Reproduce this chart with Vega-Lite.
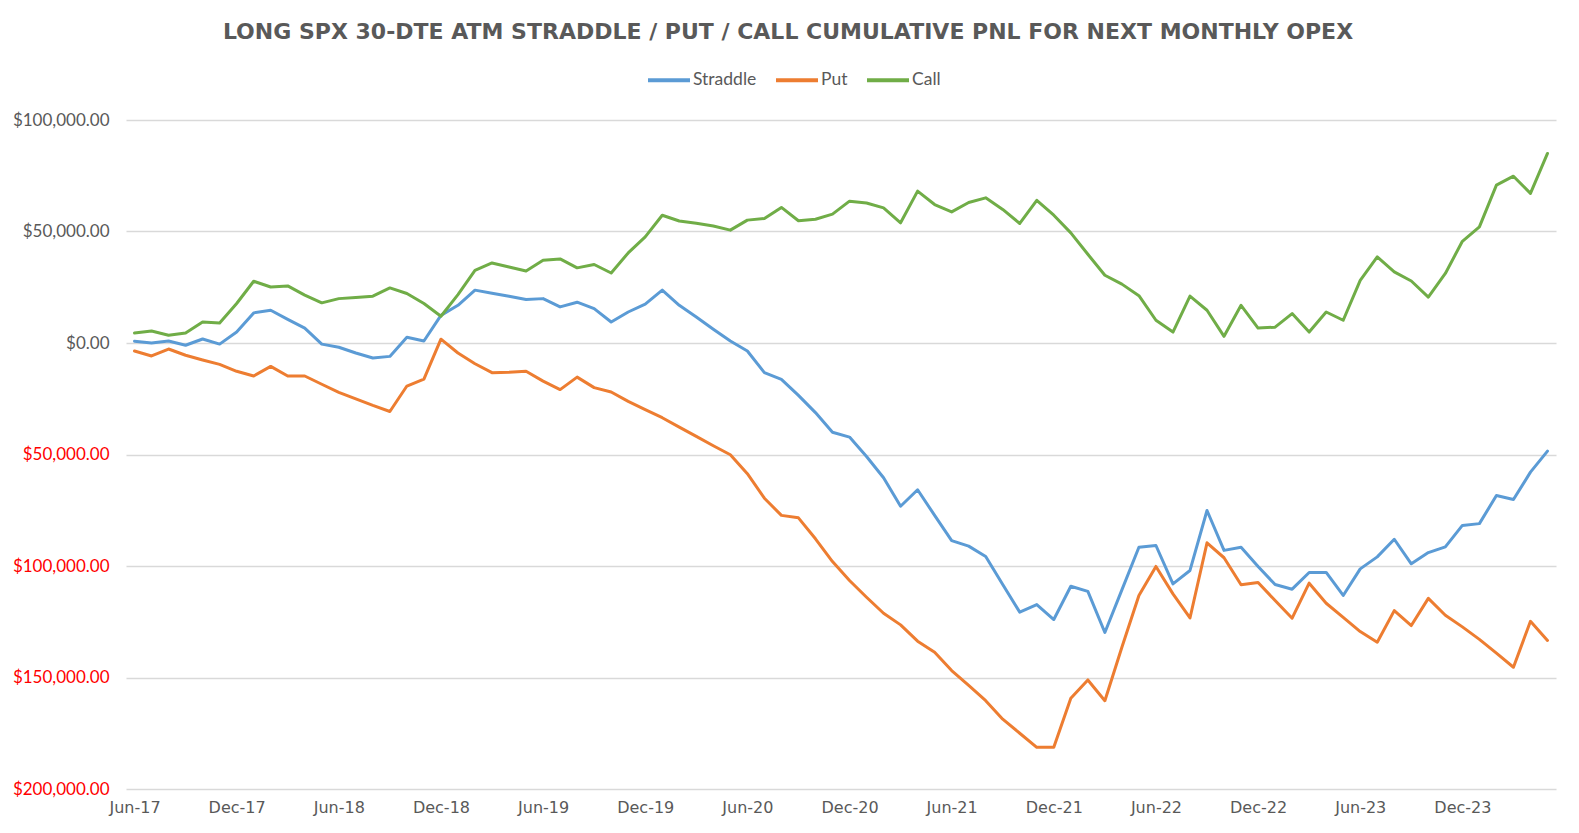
{
  "$schema": "https://vega.github.io/schema/vega-lite/v6.json",
  "width": 1430,
  "height": 669,
  "autosize": {"type": "none"},
  "padding": {"left": 126, "top": 120, "right": 23, "bottom": 44},
  "background": "white",
  "title": {
    "text": "LONG SPX 30-DTE ATM STRADDLE / PUT / CALL CUMULATIVE PNL FOR NEXT MONTHLY OPEX",
    "anchor": "middle",
    "dx": -53,
    "offset": 13,
    "font": "DejaVu Sans",
    "fontSize": 22,
    "fontWeight": "bold",
    "color": "#595959"
  },
  "data": {
    "values": [
      {"month": "Jun-17", "Straddle": 800, "Put": -3600, "Call": 4500},
      {"month": "Jul-17", "Straddle": 0, "Put": -5800, "Call": 5400},
      {"month": "Aug-17", "Straddle": 900, "Put": -2700, "Call": 3500},
      {"month": "Sep-17", "Straddle": -1000, "Put": -5500, "Call": 4500},
      {"month": "Oct-17", "Straddle": 1800, "Put": -7600, "Call": 9400},
      {"month": "Nov-17", "Straddle": -500, "Put": -9600, "Call": 9000},
      {"month": "Dec-17", "Straddle": 4900, "Put": -12700, "Call": 17700},
      {"month": "Jan-18", "Straddle": 13500, "Put": -14800, "Call": 27700},
      {"month": "Feb-18", "Straddle": 14700, "Put": -10500, "Call": 25100},
      {"month": "Mar-18", "Straddle": 10600, "Put": -14800, "Call": 25600},
      {"month": "Apr-18", "Straddle": 6700, "Put": -14800, "Call": 21500},
      {"month": "May-18", "Straddle": -500, "Put": -18500, "Call": 18000},
      {"month": "Jun-18", "Straddle": -1900, "Put": -22100, "Call": 19900},
      {"month": "Jul-18", "Straddle": -4500, "Put": -25100, "Call": 20400},
      {"month": "Aug-18", "Straddle": -6700, "Put": -28000, "Call": 21000},
      {"month": "Sep-18", "Straddle": -6000, "Put": -30700, "Call": 24700},
      {"month": "Oct-18", "Straddle": 2600, "Put": -19300, "Call": 22200},
      {"month": "Nov-18", "Straddle": 900, "Put": -16200, "Call": 17700},
      {"month": "Dec-18", "Straddle": 12400, "Put": 1700, "Call": 12000},
      {"month": "Jan-19", "Straddle": 16900, "Put": -4500, "Call": 21700},
      {"month": "Feb-19", "Straddle": 23700, "Put": -9300, "Call": 32600},
      {"month": "Mar-19", "Straddle": 22300, "Put": -13300, "Call": 35900},
      {"month": "Apr-19", "Straddle": 21000, "Put": -13100, "Call": 34100},
      {"month": "May-19", "Straddle": 19500, "Put": -12700, "Call": 32300},
      {"month": "Jun-19", "Straddle": 19900, "Put": -17100, "Call": 37100},
      {"month": "Jul-19", "Straddle": 16200, "Put": -20900, "Call": 37700},
      {"month": "Aug-19", "Straddle": 18300, "Put": -15300, "Call": 33700},
      {"month": "Sep-19", "Straddle": 15400, "Put": -20000, "Call": 35200},
      {"month": "Oct-19", "Straddle": 9400, "Put": -22000, "Call": 31400},
      {"month": "Nov-19", "Straddle": 13900, "Put": -26200, "Call": 40400},
      {"month": "Dec-19", "Straddle": 17400, "Put": -29900, "Call": 47600},
      {"month": "Jan-20", "Straddle": 23700, "Put": -33500, "Call": 57300},
      {"month": "Feb-20", "Straddle": 16900, "Put": -37700, "Call": 54700},
      {"month": "Mar-20", "Straddle": 11700, "Put": -41900, "Call": 53700},
      {"month": "Apr-20", "Straddle": 6200, "Put": -46100, "Call": 52500},
      {"month": "May-20", "Straddle": 900, "Put": -50100, "Call": 50600},
      {"month": "Jun-20", "Straddle": -3600, "Put": -58600, "Call": 55100},
      {"month": "Jul-20", "Straddle": -13300, "Put": -69600, "Call": 55800},
      {"month": "Aug-20", "Straddle": -16300, "Put": -77300, "Call": 60800},
      {"month": "Sep-20", "Straddle": -23500, "Put": -78400, "Call": 54800},
      {"month": "Oct-20", "Straddle": -31200, "Put": -87800, "Call": 55500},
      {"month": "Nov-20", "Straddle": -40000, "Put": -98000, "Call": 57800},
      {"month": "Dec-20", "Straddle": -42200, "Put": -106500, "Call": 63600},
      {"month": "Jan-21", "Straddle": -50900, "Put": -114000, "Call": 62800},
      {"month": "Feb-21", "Straddle": -60400, "Put": -121200, "Call": 60600},
      {"month": "Mar-21", "Straddle": -73200, "Put": -126400, "Call": 53900},
      {"month": "Apr-21", "Straddle": -65800, "Put": -133700, "Call": 68100},
      {"month": "May-21", "Straddle": -77300, "Put": -138700, "Call": 62100},
      {"month": "Jun-21", "Straddle": -88600, "Put": -146900, "Call": 58800},
      {"month": "Jul-21", "Straddle": -91100, "Put": -153500, "Call": 63000},
      {"month": "Aug-21", "Straddle": -95700, "Put": -160400, "Call": 65100},
      {"month": "Sep-21", "Straddle": -108300, "Put": -168700, "Call": 59900},
      {"month": "Oct-21", "Straddle": -120700, "Put": -175000, "Call": 53600},
      {"month": "Nov-21", "Straddle": -117300, "Put": -181300, "Call": 64000},
      {"month": "Dec-21", "Straddle": -124000, "Put": -181300, "Call": 57300},
      {"month": "Jan-22", "Straddle": -109100, "Put": -159300, "Call": 49400},
      {"month": "Feb-22", "Straddle": -111400, "Put": -151100, "Call": 39800},
      {"month": "Mar-22", "Straddle": -129800, "Put": -160400, "Call": 30400},
      {"month": "Apr-22", "Straddle": -110700, "Put": -136400, "Call": 26400},
      {"month": "May-22", "Straddle": -91600, "Put": -113200, "Call": 21200},
      {"month": "Jun-22", "Straddle": -90800, "Put": -100200, "Call": 10200},
      {"month": "Jul-22", "Straddle": -108000, "Put": -112500, "Call": 4900},
      {"month": "Aug-22", "Straddle": -102000, "Put": -123300, "Call": 21000},
      {"month": "Sep-22", "Straddle": -75100, "Put": -89600, "Call": 14700},
      {"month": "Oct-22", "Straddle": -93000, "Put": -96300, "Call": 3000},
      {"month": "Nov-22", "Straddle": -91600, "Put": -108400, "Call": 16900},
      {"month": "Dec-22", "Straddle": -100200, "Put": -107400, "Call": 6700},
      {"month": "Jan-23", "Straddle": -108300, "Put": -115500, "Call": 7100},
      {"month": "Feb-23", "Straddle": -110400, "Put": -123400, "Call": 13200},
      {"month": "Mar-23", "Straddle": -102900, "Put": -107700, "Call": 4900},
      {"month": "Apr-23", "Straddle": -102900, "Put": -116700, "Call": 13900},
      {"month": "May-23", "Straddle": -113200, "Put": -123000, "Call": 10200},
      {"month": "Jun-23", "Straddle": -101300, "Put": -129400, "Call": 28100},
      {"month": "Jul-23", "Straddle": -95900, "Put": -134200, "Call": 38600},
      {"month": "Aug-23", "Straddle": -88000, "Put": -120000, "Call": 31900},
      {"month": "Sep-23", "Straddle": -99000, "Put": -126700, "Call": 27800},
      {"month": "Oct-23", "Straddle": -94000, "Put": -114500, "Call": 20600},
      {"month": "Nov-23", "Straddle": -91400, "Put": -122100, "Call": 31200},
      {"month": "Dec-23", "Straddle": -81800, "Put": -127300, "Call": 45600},
      {"month": "Jan-24", "Straddle": -81000, "Put": -132900, "Call": 52100},
      {"month": "Feb-24", "Straddle": -68400, "Put": -139100, "Call": 70800},
      {"month": "Mar-24", "Straddle": -70200, "Put": -145400, "Call": 74800},
      {"month": "Apr-24", "Straddle": -57900, "Put": -124800, "Call": 67100},
      {"month": "May-24", "Straddle": -48500, "Put": -133400, "Call": 85000}
    ]
  },
  "transform": [{"fold": ["Straddle", "Put", "Call"], "as": ["series", "pnl"]}],
  "mark": {"type": "line", "strokeWidth": 3, "strokeJoin": "round", "strokeCap": "round"},
  "encoding": {
    "x": {
      "field": "month",
      "type": "ordinal",
      "sort": null,
      "scale": {"type": "point", "padding": 0.5},
      "axis": {
        "title": null,
        "values": ["Jun-17", "Dec-17", "Jun-18", "Dec-18", "Jun-19", "Dec-19", "Jun-20", "Dec-20", "Jun-21", "Dec-21", "Jun-22", "Dec-22", "Jun-23", "Dec-23"],
        "labelAngle": 0,
        "ticks": false,
        "domain": false,
        "grid": false,
        "labelPadding": 10,
        "labelFont": "DejaVu Sans",
        "labelFontSize": 16,
        "labelColor": "#595959"
      }
    },
    "y": {
      "field": "pnl",
      "type": "quantitative",
      "scale": {"domain": [-200000, 100000], "nice": false, "zero": false},
      "axis": {
        "title": null,
        "values": [-200000, -150000, -100000, -50000, 0, 50000, 100000],
        "labelExpr": "'$' + format(abs(datum.value), ',.2f')",
        "labelColor": {"condition": {"test": "datum.value < 0", "value": "#FF0000"}, "value": "#595959"},
        "ticks": false,
        "domain": false,
        "gridColor": "#D9D9D9",
        "gridWidth": 1.5,
        "labelPadding": 17,
        "labelFont": "Lato",
        "labelFontSize": 17
      }
    },
    "color": {
      "field": "series",
      "type": "nominal",
      "sort": ["Straddle", "Put", "Call"],
      "scale": {"domain": ["Straddle", "Put", "Call"], "range": ["#5B9BD5", "#ED7D31", "#70AD47"]},
      "legend": {
        "title": null,
        "orient": "none",
        "direction": "horizontal",
        "legendX": 520,
        "legendY": -63,
        "symbolType": "stroke",
        "symbolSize": 1764,
        "symbolStrokeWidth": 4,
        "labelFont": "Lato",
        "labelFontSize": 17.5,
        "labelColor": "#595959",
        "labelOffset": 1,
        "columnPadding": 11
      }
    }
  },
  "config": {"view": {"stroke": null}}
}
